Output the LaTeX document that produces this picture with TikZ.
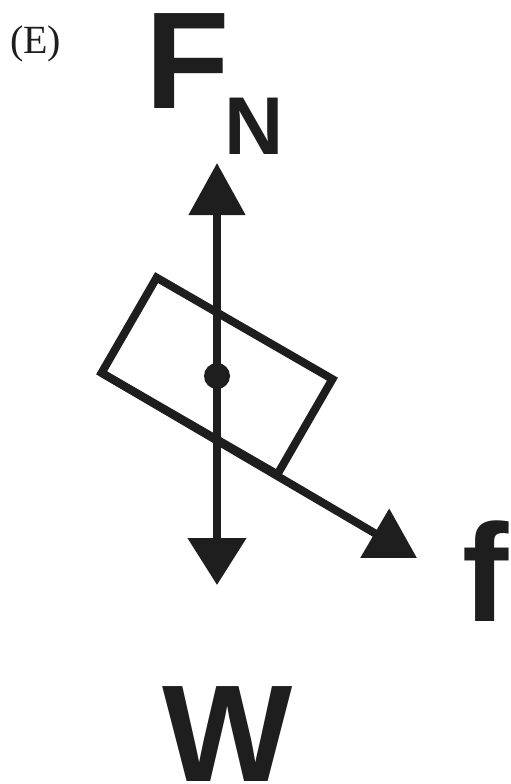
\documentclass[tikz,border=0pt]{standalone}
\usepackage{fontspec}
\setmainfont{Liberation Serif}
\newfontfamily\lsans{Liberation Sans}
\usetikzlibrary{arrows.meta}
\definecolor{ink}{RGB}{30,30,30}
\tikzset{
  lbl/.style={anchor=base west, inner sep=0pt, text=ink},
  force/.style={draw=ink, line width=8pt},
}
\begin{document}
\begin{tikzpicture}[x=1pt,y=-1pt]
\useasboundingbox (0,0) rectangle (511,784);
% labels
\node[lbl] (E) at (10,53) {\fontsize{40}{44}\selectfont (E)};
\node[lbl] (F) at (145,108) {\lsans\bfseries\fontsize{138}{140}\selectfont F};
\node[lbl] (N) at (224,154) {\lsans\bfseries\fontsize{82}{84}\selectfont N};
\node[lbl] (f) at (462,621) {\lsans\bfseries\fontsize{139}{140}\selectfont f};
\node[lbl] (W) at (162,781) {\lsans\bfseries\fontsize{138}{140}\selectfont W};
% block
\node[draw=ink, line width=8pt, minimum width=203pt, minimum height=110pt,
      inner sep=0pt, outer sep=0pt, rotate=-30] (box) at (217,376) {};
% centre dot
\node[circle, fill=ink, minimum size=26pt, inner sep=0pt] (c) at (217,376) {};
\coordinate (up) at (217,163);
\coordinate (down) at (217,585);
\coordinate (ftip) at (417,558);
% forces
\draw[force, -{Triangle[length=52pt,width=55pt]}] (c.center) -- (up);
\draw[force, -{Triangle[length=47pt,width=57pt]}] (c.center) -- (down);
\draw[force, -{Triangle[length=49pt,width=55pt]}] (box.south west) -- (ftip);
\end{tikzpicture}
\end{document}
